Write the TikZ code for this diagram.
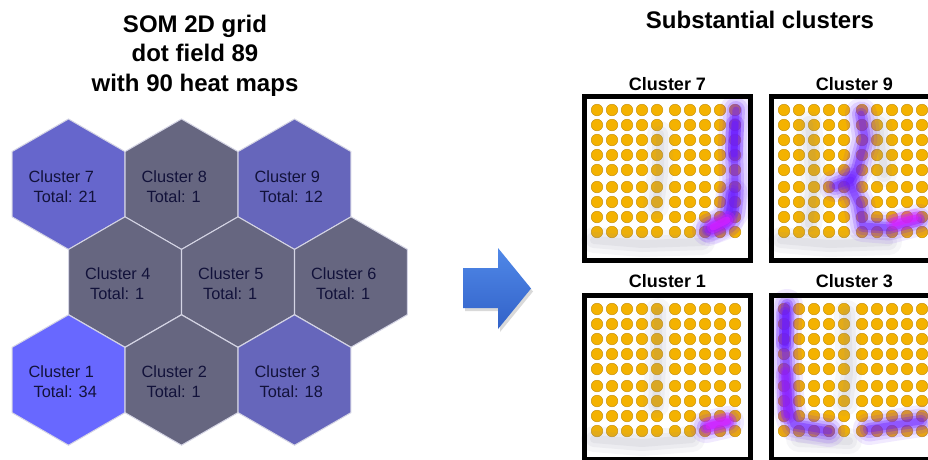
\documentclass[tikz,border=0pt]{standalone}
\usepackage{fontspec}
\setmainfont{Liberation Sans}
\usetikzlibrary{shapes.geometric}
\definecolor{hexA}{HTML}{6666CC}
\definecolor{hexB}{HTML}{6868FF}
\definecolor{hexC}{HTML}{6666BB}
\definecolor{hexG}{HTML}{666680}
\definecolor{hexline}{HTML}{D4D4E4}
\definecolor{hextext}{HTML}{12123A}
\definecolor{dotfill}{HTML}{F4B200}
\definecolor{dotedge}{HTML}{C99410}
\definecolor{heatP}{HTML}{6A1BFF}
\definecolor{heatM}{HTML}{E020FF}
\definecolor{haze}{HTML}{8A8AA0}
\definecolor{arrowA}{HTML}{5088E8}
\definecolor{arrowB}{HTML}{3262C8}
\tikzset{
  hex/.style={regular polygon, regular polygon sides=6, shape border rotate=30,
    minimum size=130.4pt, inner sep=0pt, outer sep=0pt, draw=hexline, line width=1pt},
  hextxt/.style={anchor=west, align=left, text=hextext, inner sep=0pt,
    font=\fontsize{16.3}{20}\selectfont},
  title/.style={align=center, inner sep=0pt, font=\bfseries\fontsize{24}{29.5}\selectfont},
  plabel/.style={anchor=base, inner sep=0pt, font=\bfseries\fontsize{18}{22}\selectfont},
  panel/.style={draw=black, fill=white, line width=5pt, minimum width=166pt,
    minimum height=164pt, inner sep=0pt, outer sep=0pt},
  dotc/.style={fill=dotfill, draw=dotedge, line width=0.5pt},
}
\newcommand\heatpath[2]{%
  \foreach \w/\o in {32/0.09,25/0.13,18/0.2,12/0.3,7/0.4}{%
    \draw[#1, line width=\w pt, draw opacity=\o, line cap=round, line join=round] #2;}}
\newcommand\heatcore[2]{%
  \foreach \w/\o in {18/0.25,12/0.35,7/0.55}{%
    \draw[#1, line width=\w pt, draw opacity=\o, line cap=round, line join=round] #2;}}
\newcommand\hazepath[1]{%
  \foreach \w/\o in {26/0.07,16/0.09,8/0.1}{%
    \draw[haze, line width=\w pt, draw opacity=\o, line cap=round, line join=round] #1;}}
\newcommand\dotgrid{%
  \foreach \cx in {15,30,45,60,75,93,108,123,138,153}{%
    \foreach \cy in {16,31,46,61,76,93,108,123,138}{%
      \fill[dotc] (\cx,\cy) circle[radius=5.8pt];}}}
\begin{document}
\begin{tikzpicture}[x=1pt,y=-1pt]
\useasboundingbox (0,0) rectangle (928,459);
\clip (0,0) rectangle (928,459);
\fill[white] (0,0) rectangle (928,459);

% ---------- titles
\node[title] (title) at (195,55.5) {SOM 2D grid\\dot field 89\\with 90 heat maps};
\node[title, anchor=base] (title2) at (760,28.5) {Substantial clusters};

% ---------- hexagon grid
\node[hex, fill=hexA] (h7) at (68.5,184.2) {};
\node[hex, fill=hexG] (h8) at (181.5,184.2) {};
\node[hex, fill=hexC] (h9) at (294.5,184.2) {};
\node[hex, fill=hexG] (h4) at (125,282) {};
\node[hex, fill=hexG] (h5) at (238,282) {};
\node[hex, fill=hexG] (h6) at (351,282) {};
\node[hex, fill=hexB] (h1) at (68.5,380) {};
\node[hex, fill=hexG] (h2) at (181.5,380) {};
\node[hex, fill=hexC] (h3) at (294.5,380) {};

\node[hextxt] (t7) at (28.5,186.2) {Cluster 7\\\hspace{5pt}Total: 21};
\node[hextxt] (t8) at (141.5,186.2) {Cluster 8\\\hspace{5pt}Total: 1};
\node[hextxt] (t9) at (254.5,186.2) {Cluster 9\\\hspace{5pt}Total: 12};
\node[hextxt] (t4) at (85,284) {Cluster 4\\\hspace{5pt}Total: 1};
\node[hextxt] (t5) at (198,284) {Cluster 5\\\hspace{5pt}Total: 1};
\node[hextxt] (t6) at (311,284) {Cluster 6\\\hspace{5pt}Total: 1};
\node[hextxt] (t1) at (28.5,382) {Cluster 1\\\hspace{5pt}Total: 34};
\node[hextxt] (t2) at (141.5,382) {Cluster 2\\\hspace{5pt}Total: 1};
\node[hextxt] (t3) at (254.5,382) {Cluster 3\\\hspace{5pt}Total: 18};

% ---------- block arrow
\fill[black, opacity=0.15] (465,271) -- (500,271) -- (500,251) -- (533,291.5) -- (500,332) -- (500,311) -- (465,311) -- cycle;
\shade[top color=arrowA, bottom color=arrowB]
  (463,268) -- (498,268) -- (498,248) -- (531,288.5) -- (498,329) -- (498,308) -- (463,308) -- cycle;

% ---------- panel labels
\node[plabel] (l7) at (667.5,90) {Cluster 7};
\node[plabel] (l9) at (854.5,90) {Cluster 9};
\node[plabel] (l1) at (667.5,287) {Cluster 1};
\node[plabel] (l3) at (854.5,287) {Cluster 3};

% ---------- panel Cluster 7
\begin{scope}[shift={(582,94)}]
  \fill[white] (0,0) rectangle (171,169);
  \dotgrid
  \hazepath{(78,40) -- (78,80) -- (74,112)}
  \hazepath{(12,146) -- (60,150) -- (120,148)}
  \heatpath{heatP}{(154,16) -- (152,50) -- (153,90) -- (151,118) -- (142,130) -- (126,136)}
  \heatpath{heatP}{(150,100) -- (146,126) -- (130,134)}
  \heatcore{heatP}{(153,30) -- (152,60)}
  \heatcore{heatM}{(131,133) -- (145,126)}
  \node[panel, fill=none] (p7) at (85.5,84.5) {};
\end{scope}

% ---------- panel Cluster 9
\begin{scope}[shift={(769,94)}]
  \fill[white] (0,0) rectangle (171,169);
  \dotgrid
  \hazepath{(40,30) -- (45,90) -- (40,130)}
  \hazepath{(12,146) -- (60,150) -- (120,148)}
  \hazepath{(110,30) -- (115,80)}
  \heatpath{heatP}{(92,20) -- (96,45) -- (88,75) -- (80,88) -- (90,110) -- (94,132) -- (120,134) -- (150,126)}
  \heatpath{heatP}{(66,92) -- (82,86)}
  \heatcore{heatM}{(126,129) -- (146,124)}
  \node[panel, fill=none] (p9) at (85.5,84.5) {};
\end{scope}

% ---------- panel Cluster 1
\begin{scope}[shift={(582,293)}]
  \fill[white] (0,0) rectangle (171,169);
  \dotgrid
  \hazepath{(76,18) -- (76,70) -- (74,112)}
  \hazepath{(12,146) -- (60,150) -- (110,146)}
  \heatpath{heatP}{(124,134) -- (146,129)}
  \heatcore{heatM}{(127,133) -- (145,128)}
  \node[panel, fill=none] (p1) at (85.5,84.5) {};
\end{scope}

% ---------- panel Cluster 3
\begin{scope}[shift={(769,293)}]
  \fill[white] (0,0) rectangle (171,169);
  \dotgrid
  \hazepath{(78,20) -- (80,80) -- (76,110)}
  \hazepath{(30,146) -- (80,148)}
  \heatpath{heatP}{(18,12) -- (16,50) -- (18,85) -- (20,115) -- (25,132) -- (60,138)}
  \heatpath{heatP}{(100,136) -- (125,132) -- (152,128)}
  \heatcore{heatP!70!heatM}{(16,80) -- (18,122)}
  \heatcore{heatP}{(16,20) -- (16,50)}
  \node[panel, fill=none] (p3) at (85.5,84.5) {};
\end{scope}
\end{tikzpicture}
\end{document}
